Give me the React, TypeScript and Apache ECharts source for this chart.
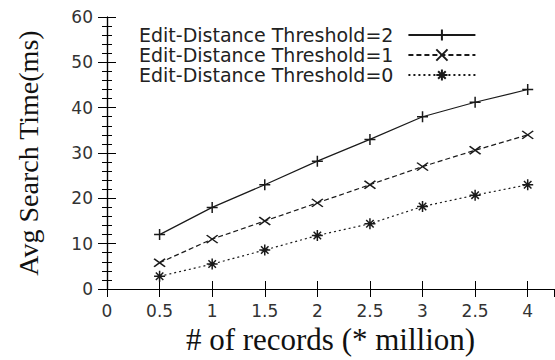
import React, { useEffect, useRef } from "react";
import * as echarts from "echarts";

const xValues = [0.5, 1, 1.5, 2, 2.5, 3, 3.5, 4];
const xTickLabels = ["0", "0.5", "1", "1.5", "2", "2.5", "3", "2.5", "4"];
const seriesNames = [
  "Edit-Distance Threshold=2",
  "Edit-Distance Threshold=1",
  "Edit-Distance Threshold=0",
];
const threshold2 = [12, 18, 23, 28.2, 33, 38, 41.2, 44];
const threshold1 = [5.8, 11, 15, 19, 23, 27, 30.6, 34];
const threshold0 = [2.8, 5.5, 8.6, 11.8, 14.4, 18.2, 20.7, 23];

const PLUS = "path://M5,0 L5,10 M0,5 L10,5";
const CROSS = "path://M0,0 L10,10 M0,10 L10,0";
const STAR = "path://M5,0 L5,10 M0,5 L10,5 M1.6,1.6 L8.4,8.4 M1.6,8.4 L8.4,1.6";

const INK = "#1a1a1a";
const SANS = "DejaVu Sans";
const SERIF = "Liberation Serif";

function toPairs(ys: number[]) {
  return xValues.map((x, i) => [x, ys[i]]);
}

export default function App() {
  const ref = useRef<HTMLDivElement>(null);
  useEffect(() => {
    document.body.style.margin = "0";
    if (!ref.current) return;
    const chart = echarts.init(ref.current, null, { renderer: "svg" });
    const mkSeries = (
      name: string,
      ys: number[],
      symbol: string,
      size: number | number[],
      type: any
    ) => ({
      name,
      type: "line",
      data: toPairs(ys),
      symbol,
      symbolSize: size,
      showAllSymbol: true,
      lineStyle: { color: INK, width: 1.2, type },
      itemStyle: { color: INK, borderColor: INK, borderWidth: 1.5 },
      emphasis: { disabled: true },
    });
    const xFormatter = (v: number) => {
      const idx = Math.round(v / 0.5);
      if (Math.abs(idx * 0.5 - v) > 1e-6) return "";
      return xTickLabels[idx] ?? "";
    };
    const option: any = {
      animation: false,
      backgroundColor: "#ffffff",
      grid: { left: 107, right: 1, top: 17, bottom: 67 },
      legend: {
        left: 139,
        top: 25,
        orient: "vertical",
        align: "right",
        padding: 0,
        itemGap: 0,
        itemWidth: 67,
        itemHeight: 14,
        selectedMode: false,
        data: seriesNames,
        textStyle: {
          fontFamily: SANS,
          fontSize: 19,
          color: "#222",
          lineHeight: 20,
          padding: [0, 10, 0, 0],
        },
      },
      xAxis: [
        {
          type: "value",
          min: 0,
          max: 4.25,
          interval: 0.5,
          name: "# of records (* million)",
          nameLocation: "middle",
          nameGap: 35,
          nameTextStyle: { fontFamily: SERIF, fontSize: 31, color: "#111" },
          axisLine: { show: true, lineStyle: { color: "#000", width: 1.2 } },
          axisTick: { show: true, inside: true, length: 8, lineStyle: { color: "#000" } },
          axisLabel: {
            show: true,
            margin: 13,
            fontFamily: SANS,
            fontSize: 17,
            color: "#333",
            showMaxLabel: false,
            formatter: xFormatter,
          },
          splitLine: { show: false },
        },
        {
          type: "value",
          position: "top",
          min: 0,
          max: 4.25,
          interval: 0.5,
          axisLine: { show: true, lineStyle: { color: "#000", width: 1.2 } },
          axisTick: { show: true, inside: true, length: 8, lineStyle: { color: "#000" } },
          axisLabel: { show: false },
          splitLine: { show: false },
        },
      ],
      yAxis: [
        {
          type: "value",
          min: 0,
          max: 60,
          interval: 10,
          name: "Avg Search Time(ms)",
          nameLocation: "middle",
          nameGap: 65,
          nameTextStyle: { fontFamily: SERIF, fontSize: 28, color: "#111" },
          axisLine: { show: true, lineStyle: { color: "#000", width: 1.2 } },
          axisTick: { show: true, inside: true, length: 9, lineStyle: { color: "#000" } },
          minorTick: { show: true, splitNumber: 5, length: 5, lineStyle: { color: "#000" } },
          axisLabel: {
            margin: 14,
            fontFamily: SANS,
            fontSize: 17,
            color: "#333",
          },
          splitLine: { show: false },
        },
        {
          type: "value",
          position: "right",
          min: 0,
          max: 60,
          interval: 10,
          axisLine: { show: true, lineStyle: { color: "#000", width: 1.2 } },
          axisTick: { show: true, inside: true, length: 9, lineStyle: { color: "#000" } },
          minorTick: { show: true, splitNumber: 5, length: 5, lineStyle: { color: "#000" } },
          axisLabel: { show: false },
          splitLine: { show: false },
        },
      ],
      series: [
        mkSeries(seriesNames[0], threshold2, PLUS, 11, "solid"),
        mkSeries(seriesNames[1], threshold1, CROSS, [11, 8], [5, 3]),
        mkSeries(seriesNames[2], threshold0, STAR, 11, [2, 3]),
      ],
    };
    chart.setOption(option);
    return () => chart.dispose();
  }, []);
  return <div ref={ref} style={{ width: 555, height: 360 }} />;
}
